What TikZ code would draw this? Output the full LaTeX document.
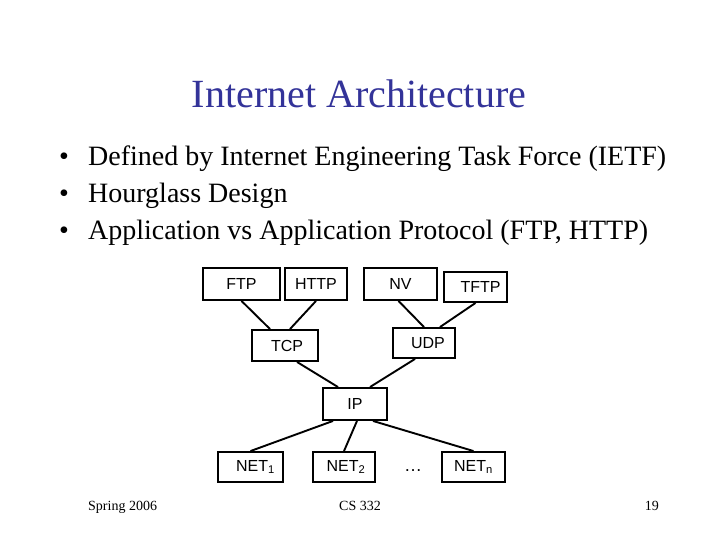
\documentclass[tikz,border=0pt]{standalone}
\usepackage{fontspec}
\setmainfont{Liberation Serif}
\newfontfamily\boxfont{Liberation Sans}
\definecolor{titleblue}{RGB}{51,51,153}
\begin{document}
\begin{tikzpicture}[x=1pt,y=-1pt,
  layerbox/.style={draw=black,line width=1.9pt,inner sep=0pt,font=\boxfont\fontsize{16}{18}\selectfont},
  link/.style={draw=black,line width=1.9pt},
  bullettext/.style={anchor=base west,inner sep=0pt,font=\fontsize{28}{32}\selectfont},
  footer/.style={anchor=base,inner sep=0pt,font=\fontsize{14}{16}\selectfont}]
\useasboundingbox (0,0) rectangle (720,540);
\fill[white] (0,0) rectangle (720,540);
% title
\node[anchor=base,inner sep=0pt,text=titleblue,font=\fontsize{40}{44}\selectfont] (title) at (359,108) {Internet Architecture};
% bullets
\node[bullettext] (b1m) at (59,166) {•};
\node[bullettext] (b1) at (88,166) {Defined by Internet Engineering Task Force (IETF)};
\node[bullettext] (b2m) at (59,203) {•};
\node[bullettext] (b2) at (88,203) {Hourglass Design};
\node[bullettext] (b3m) at (59,240) {•};
\node[bullettext] (b3) at (88,240) {Application vs Application Protocol (FTP, HTTP)};
% boxes
\node[layerbox,minimum width=77pt,minimum height=32pt] (ftp) at (241.5,284) {FTP};
\node[layerbox,minimum width=62pt,minimum height=32pt] (http) at (316,284) {HTTP};
\node[layerbox,minimum width=73pt,minimum height=32pt] (nv) at (400.5,284) {NV};
\node[layerbox,minimum width=63pt,minimum height=30pt] (tftp) at (475.5,287) {\hspace*{10pt}TFTP};
\node[layerbox,minimum width=66pt,minimum height=31pt] (tcp) at (285,345.5) {\hspace*{4pt}TCP};
\node[layerbox,minimum width=62pt,minimum height=30pt] (udp) at (424,343) {\hspace*{8pt}UDP};
\node[layerbox,minimum width=64pt,minimum height=32pt] (ip) at (355,404) {IP};
\node[layerbox,minimum width=65pt,minimum height=30pt] (net1) at (250.5,467) {\hspace*{10pt}NET\textsubscript{1}};
\node[layerbox,minimum width=62pt,minimum height=30pt] (net2) at (344,467) {\hspace*{4pt}NET\textsubscript{2}};
\node[layerbox,minimum width=63pt,minimum height=30pt] (netn) at (473.5,467) {NET\textsubscript{n}};
\node[inner sep=0pt,font=\boxfont\fontsize{18}{20}\selectfont] (dots) at (413,471) {…};
% connectors
\draw[link] (ftp.south) -- ([xshift=-15pt]tcp.north);
\draw[link] (http.south) -- ([xshift=5pt]tcp.north);
\draw[link] ([xshift=-2pt]nv.south) -- (udp.north);
\draw[link] (tftp.south) -- ([xshift=16pt]udp.north);
\draw[link] ([xshift=12pt]tcp.south) -- ([xshift=-17pt]ip.north);
\draw[link] ([xshift=-9pt]udp.south) -- ([xshift=15pt]ip.north);
\draw[link] ([xshift=-22pt]ip.south) -- (net1.north);
\draw[link] ([xshift=2pt]ip.south) -- (net2.north);
\draw[link] ([xshift=18pt]ip.south) -- (netn.north);
% footer
\node[footer,anchor=base west] (f1) at (88,510) {Spring 2006};
\node[footer] (f2) at (360,510) {CS 332};
\node[footer,anchor=base east] (f3) at (659,510) {19};
\end{tikzpicture}
\end{document}
